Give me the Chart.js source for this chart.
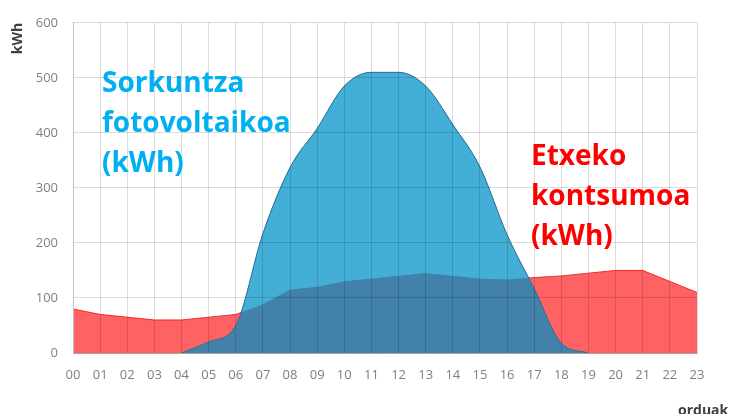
<!DOCTYPE html>
<html>
<head>
<meta charset="utf-8">
<script src="https://cdn.jsdelivr.net/npm/chart.js@4.4.1/dist/chart.umd.min.js"></script>
<style>
  body { margin: 0; background: #fff; }
  #wrap { position: relative; width: 731px; height: 414px; overflow: hidden; }
  .nota { position: absolute; font-family: "Open Sans", sans-serif; font-weight: bold; font-size: 28px; line-height: 40px; white-space: nowrap; }
  #sorkuntza { left: 102px; top: 61px; color: #00b0f0; }
  #kontsumoa { left: 531px; top: 134px; color: #ff0000; }
  #orduak { position: absolute; left: 678px; top: 400px; font-family: "Open Sans", sans-serif; font-weight: bold; font-size: 14px; color: #404040; }
</style>
</head>
<body>
<div id="wrap">
  <canvas id="grafikoa" width="731" height="414"></canvas>
  <div class="nota" id="sorkuntza">Sorkuntza<br>fotovoltaikoa<br>(kWh)</div>
  <div class="nota" id="kontsumoa">Etxeko<br>kontsumoa<br>(kWh)</div>
  <div id="orduak">orduak</div>
</div>
<script>
// datuak

const orduak = ['00', '01', '02', '03', '04', '05', '06', '07', '08', '09', '10', '11',
  '12', '13', '14', '15', '16', '17', '18', '19', '20', '21', '22', '23']

const kontsumoa = [80, 70, 65, 60, 60, 65, 70, 88, 115, 120, 130, 135,
  140, 145, 140, 135, 133, 137, 140, 145, 150, 150, 130, 110]

const sorkuntza = [null, null, null, null, 0, 20, 50, 217, 337, 408, 485, 510,
  510, 485, 415, 338, 215, 117, 18, 0, null, null, null, null]

const yTicks = [0, 100, 200, 300, 400, 500, 600]

// koloreak

const gorria = '#ff6262'
const urdinArgia = '#43afd6'
const urdinIluna = '#4281a9'

const ctx = document.getElementById('grafikoa').getContext('2d')

new Chart(ctx, {
  type: 'line',
  data: {
    labels: orduak,
    datasets: [
      {
        // kontsumoa, gorriz, behean
        label: 'Etxeko kontsumoa (kWh)',
        data: kontsumoa,
        fill: 'origin',
        backgroundColor: gorria,
        borderColor: '#ff2020',
        borderWidth: 1,
        pointRadius: 0,
        tension: 0,
        order: 3
      },
      {
        // sorkuntza, gainjartzen den zatia (urdin iluna)
        label: 'gainjarria',
        data: sorkuntza,
        fill: 'origin',
        backgroundColor: urdinIluna,
        borderWidth: 0,
        pointRadius: 0,
        cubicInterpolationMode: 'monotone',
        order: 2
      },
      {
        // sorkuntza kontsumoaren gainetik (urdin argia)
        label: 'Sorkuntza fotovoltaikoa (kWh)',
        data: sorkuntza,
        fill: { target: 0, above: urdinArgia, below: 'rgba(0,0,0,0)' },
        borderColor: '#2f6f96',
        borderWidth: 1,
        pointRadius: 0,
        cubicInterpolationMode: 'monotone',
        order: 1
      }
    ]
  },
  options: {
    responsive: false,
    animation: false,
    layout: { padding: { left: 0, right: 34, top: 21, bottom: 0 } },
    plugins: {
      legend: { display: false },
      tooltip: { enabled: false }
    },
    scales: {
      x: {
        grid: { color: 'rgba(0,0,0,0.14)', drawTicks: false, z: 1 },
        border: { color: '#bfbfbf', z: 1 },
        ticks: {
          color: '#7f7f7f',
          font: { family: 'Open Sans', size: 13 },
          padding: 14,
          maxRotation: 0,
          autoSkip: false
        },
        afterFit: scale => { scale.height = 61 }
      },
      y: {
        min: 0,
        max: 600,
        afterBuildTicks: scale => { scale.ticks = yTicks.map(v => ({ value: v })) },
        grid: { color: 'rgba(0,0,0,0.14)', drawTicks: false, z: 1 },
        border: { color: '#bfbfbf', z: 1 },
        ticks: {
          color: '#7f7f7f',
          font: { family: 'Open Sans', size: 13 },
          padding: 15
        },
        title: {
          display: true,
          text: 'kWh',
          align: 'end',
          color: '#404040',
          font: { family: 'Open Sans', size: 14, weight: 'bold' },
          padding: { top: 10, bottom: 0 }
        },
        afterFit: scale => { scale.width = 73 }
      }
    }
  }
})
</script>
</body>
</html>
